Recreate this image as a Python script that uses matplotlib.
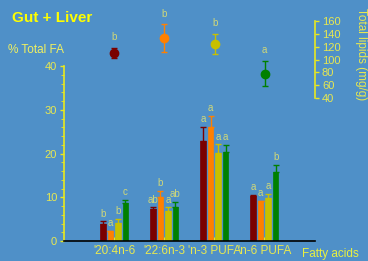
import matplotlib
matplotlib.use("Agg")
import matplotlib.pyplot as plt
import numpy as np

plt.rcParams['font.family'] = ['Liberation Sans', 'DejaVu Sans']

categories = ["'20:4n-6", "'22:6n-3", "'n-3 PUFA", "'n-6 PUFA"]
series_colors = ["#7a0000", "#ff8000", "#c8c000", "#008000"]

# % total FA, per series (rows) per category (cols)
fa_values = [
    [3.9, 7.4, 22.9, 10.4],
    [2.3, 10.0, 26.1, 9.2],
    [4.2, 6.9, 20.2, 9.8],
    [8.7, 7.8, 20.4, 15.8],
]
fa_errors = [
    [0.6, 0.3, 3.1, 0.1],
    [0.0, 1.4, 2.5, 0.0],
    [0.8, 0.8, 1.9, 0.9],
    [0.7, 1.1, 1.5, 1.6],
]
fa_letters = [
    ["b", "ab", "a", "a"],
    ["a", "b", "a", "a"],
    ["b", "a", "a", "a"],
    ["c", "ab", "a", "b"],
]

# total lipids (mg/g) per series
lipid_values = [110, 133, 124, 78]
lipid_errors = [8, 22, 16, 20]
lipid_letters = ["b", "b", "b", "a"]

bg = "#4f90c8"
tick_col = "#e8e850"
letter_col = "#d0d878"

fig = plt.figure(figsize=(3.68, 2.61), dpi=100, facecolor=bg)
W, H = 368, 261
ax = fig.add_axes([64 / W, (H - 241) / H, 250.5 / W, 175 / H])
ax.set_facecolor('none')

x = np.arange(1, len(categories) + 1)
bw = 0.11
pitch = 0.15
offsets = [-1.5 * pitch, -0.5 * pitch, 0.5 * pitch, 1.5 * pitch]
for i in range(4):
    xs = x + offsets[i]
    ax.bar(xs, fa_values[i], width=bw, color=series_colors[i],
           edgecolor=series_colors[i], linewidth=0.5, zorder=2)
    errs = np.array(fa_errors[i])
    ax.errorbar(xs, fa_values[i], yerr=[np.zeros_like(errs), errs], fmt='none',
                ecolor=series_colors[i], elinewidth=1, capsize=2.5, capthick=1, zorder=3)
    for xi, v, e, lab in zip(xs, fa_values[i], errs, fa_letters[i]):
        ax.annotate(lab, (xi, v + e), xytext=(0, 2), textcoords='offset points',
                    ha='center', va='bottom', fontsize=7, color=letter_col)

ax.set_xlim(0, 5)
ax.set_ylim(0, 40)
ax.set_xticks(x)
ax.set_xticklabels(categories, fontsize=8.5, color=tick_col)
ax.set_yticks([0, 10, 20, 30, 40])
ax.set_yticks(np.arange(0, 41, 2), minor=True)
ax.tick_params(axis='y', colors='#e8e820', labelcolor=tick_col, labelsize=8,
               length=3, width=1, direction='out', pad=2)
ax.tick_params(axis='y', which='minor', length=2, colors='#e8e820')
ax.tick_params(axis='x', colors='#e8e820', labelcolor=tick_col, length=3, direction='in', pad=3)
for s in ['top', 'right']:
    ax.spines[s].set_visible(False)
ax.spines['left'].set_color('#e8e820')
ax.spines['left'].set_linewidth(1.2)
ax.spines['bottom'].set_color('black')
ax.spines['bottom'].set_linewidth(1.2)

# inset axes for total lipids
ax2 = fig.add_axes([64 / W, (H - 98) / H, 251 / W, 77 / H])
ax2.set_facecolor('none')
ax2.set_xlim(0, 5)
ax2.set_ylim(40, 160)
for i in range(4):
    ax2.errorbar([x[i]], [lipid_values[i]], yerr=[lipid_errors[i]], fmt='o',
                 color=series_colors[i], ecolor=series_colors[i], markersize=6,
                 elinewidth=1, capsize=2.5, capthick=1, clip_on=False)
    ax2.annotate(lipid_letters[i], (x[i], lipid_values[i] + lipid_errors[i]),
                 xytext=(0, 4), textcoords='offset points', ha='center',
                 va='bottom', fontsize=7, color=letter_col, annotation_clip=False)
for s in ['top', 'left', 'bottom']:
    ax2.spines[s].set_visible(False)
ax2.spines['right'].set_color('#e8e820')
ax2.spines['right'].set_linewidth(1.2)
ax2.set_xticks([])
ax2.yaxis.tick_right()
ax2.set_yticks([40, 60, 80, 100, 120, 140, 160])
ax2.tick_params(axis='y', colors='#e8e820', labelcolor=tick_col, labelsize=8,
                length=3, width=1, direction='out', pad=2)
fig.text(361 / W, 1 - 54 / H, "Total lipids (mg/g)", rotation=270, ha='center',
         va='center', fontsize=8.5, color=tick_col)

fig.text(12 / W, 1 - 18 / H, "Gut + Liver", fontsize=11, fontweight='bold',
         color='#ffff00', ha='left', va='center')
fig.text(8 / W, 1 - 50 / H, "% Total FA", fontsize=8.5, color='#f0f060',
         ha='left', va='center')
fig.text(302 / W, 1 - 254 / H, "Fatty acids", fontsize=8.5, color='#e8f040',
         ha='left', va='center')

fig.savefig("out.png", dpi=100, facecolor=bg)
